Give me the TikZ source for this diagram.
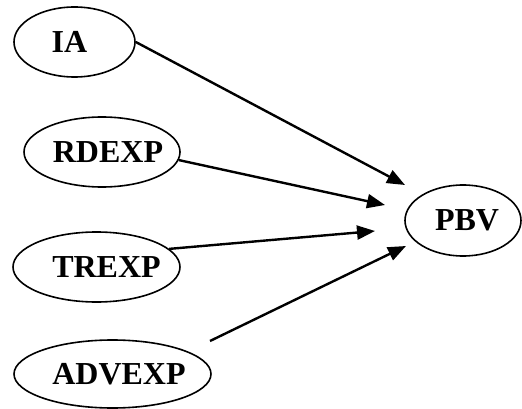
\documentclass[tikz,border=0pt]{standalone}
\usepackage{fontspec}
\setmainfont{Liberation Serif}
\usetikzlibrary{shapes.geometric}
\usetikzlibrary{arrows.meta}
\pgfdeclarelayer{nodelayer}
\pgfdeclarelayer{edgelayer}
\pgfsetlayers{nodelayer,edgelayer,main}
\tikzset{
    none/.style = {inner sep=0pt},
    var/.style = {ellipse, draw, line width=1.6pt, inner sep=0pt, minimum height=70pt,
        font=\fontsize{32}{36}\selectfont\bfseries},
    link/.style = {-{Triangle[length=18pt, width=14pt]}, line width=2.4pt}
}
% text set off the centre of its ellipse, as in the figure
\newcommand{\offtext}[2]{\makebox[0pt][c]{\hspace{#1}#2}}
\begin{document}
\begin{tikzpicture}[x=1pt, y=-1pt]
    \useasboundingbox (0, 0) rectangle (522, 409);

    \begin{pgfonlayer}{nodelayer}
        \node [style=var, minimum width=121pt] (ia) at (74.5, 42) {\offtext{-10pt}{IA}};
        \node [style=var, minimum width=156pt] (rdexp) at (102, 152) {\offtext{12pt}{RDEXP}};
        \node [style=var, minimum width=167pt] (trexp) at (96.5, 267) {\offtext{20pt}{TREXP}};
        \node [style=var, minimum width=197pt, minimum height=68pt] (advexp) at (112.5, 374) {\offtext{13pt}{ADVEXP}};
        \node [style=var, minimum width=116pt, minimum height=71pt] (pbv) at (463, 220.5) {\offtext{8pt}{PBV}};
        \coordinate (advstart) at (210, 341);
        \coordinate (tip1) at (405, 185);
        \coordinate (tip2) at (385, 205);
        \coordinate (tip3) at (375, 231);
        \coordinate (tip4) at (406, 246);
    \end{pgfonlayer}
    \begin{pgfonlayer}{edgelayer}
        \draw [style=link] (ia.east) to (tip1);
        \draw [style=link] (rdexp.-6) to (tip2);
        \draw [style=link] (trexp.14) to (tip3);
        \draw [style=link] (advstart) to (tip4);
    \end{pgfonlayer}
\end{tikzpicture}
\end{document}
